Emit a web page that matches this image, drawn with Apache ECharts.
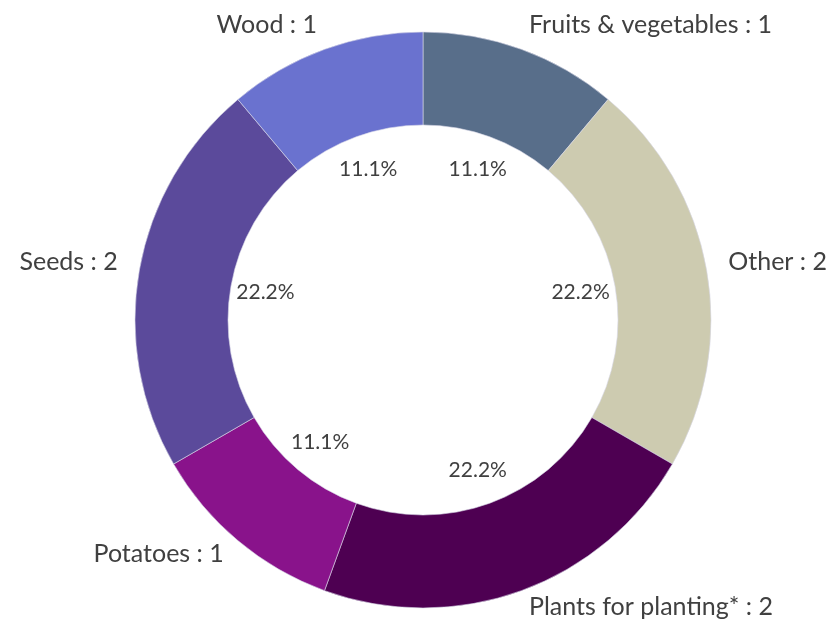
<!DOCTYPE html>
<html>
<head>
<meta charset="utf-8">
<script src="https://cdn.jsdelivr.net/npm/echarts@6/dist/echarts.min.js"></script>
<style>
html,body{margin:0;padding:0;background:#fff;}
#chart{width:832px;height:627px;}
</style>
</head>
<body>
<div id="chart"></div>
<script>
const categories = ["Fruits & vegetables", "Other", "Plants for planting*", "Potatoes", "Seeds", "Wood"];
const values = [1, 2, 2, 1, 2, 1];
const colors = ["#586e8a", "#cdcbb0", "#4e0052", "#89138b", "#5b4a9b", "#6a72cf"];

const total = values.reduce((a, b) => a + b, 0);
const data = categories.map((c, i) => ({ name: c, value: values[i] }));

const FONT = "Lato";
const chart = echarts.init(document.getElementById('chart'));
chart.setOption({
  animation: false,
  color: colors,
  series: [
    {
      type: 'pie',
      center: [423, 320],
      radius: [195, 288],
      startAngle: 90,
      clockwise: true,
      avoidLabelOverlap: false,
      itemStyle: { borderColor: '#d8d8e8', borderWidth: 0.6 },
      label: {
        show: true,
        position: 'outside',
        formatter: p => p.name + ' : ' + p.value,
        fontFamily: FONT,
        fontSize: 25,
        color: '#404040',
        distanceToLabelLine: 0,
        offset: [0, -4]
      },
      labelLine: { show: false, length: 22, length2: 0 },
      data: data
    },
    {
      type: 'pie',
      center: [423, 320],
      radius: [119, 195],
      startAngle: 90,
      clockwise: true,
      silent: true,
      avoidLabelOverlap: false,
      itemStyle: { color: 'rgba(0,0,0,0)' },
      label: {
        show: true,
        position: 'inside',
        formatter: p => (p.value / total * 100).toFixed(1) + '%',
        fontFamily: FONT,
        fontSize: 21,
        color: '#404040'
      },
      labelLine: { show: false },
      data: data
    }
  ]
});
</script>
</body>
</html>
